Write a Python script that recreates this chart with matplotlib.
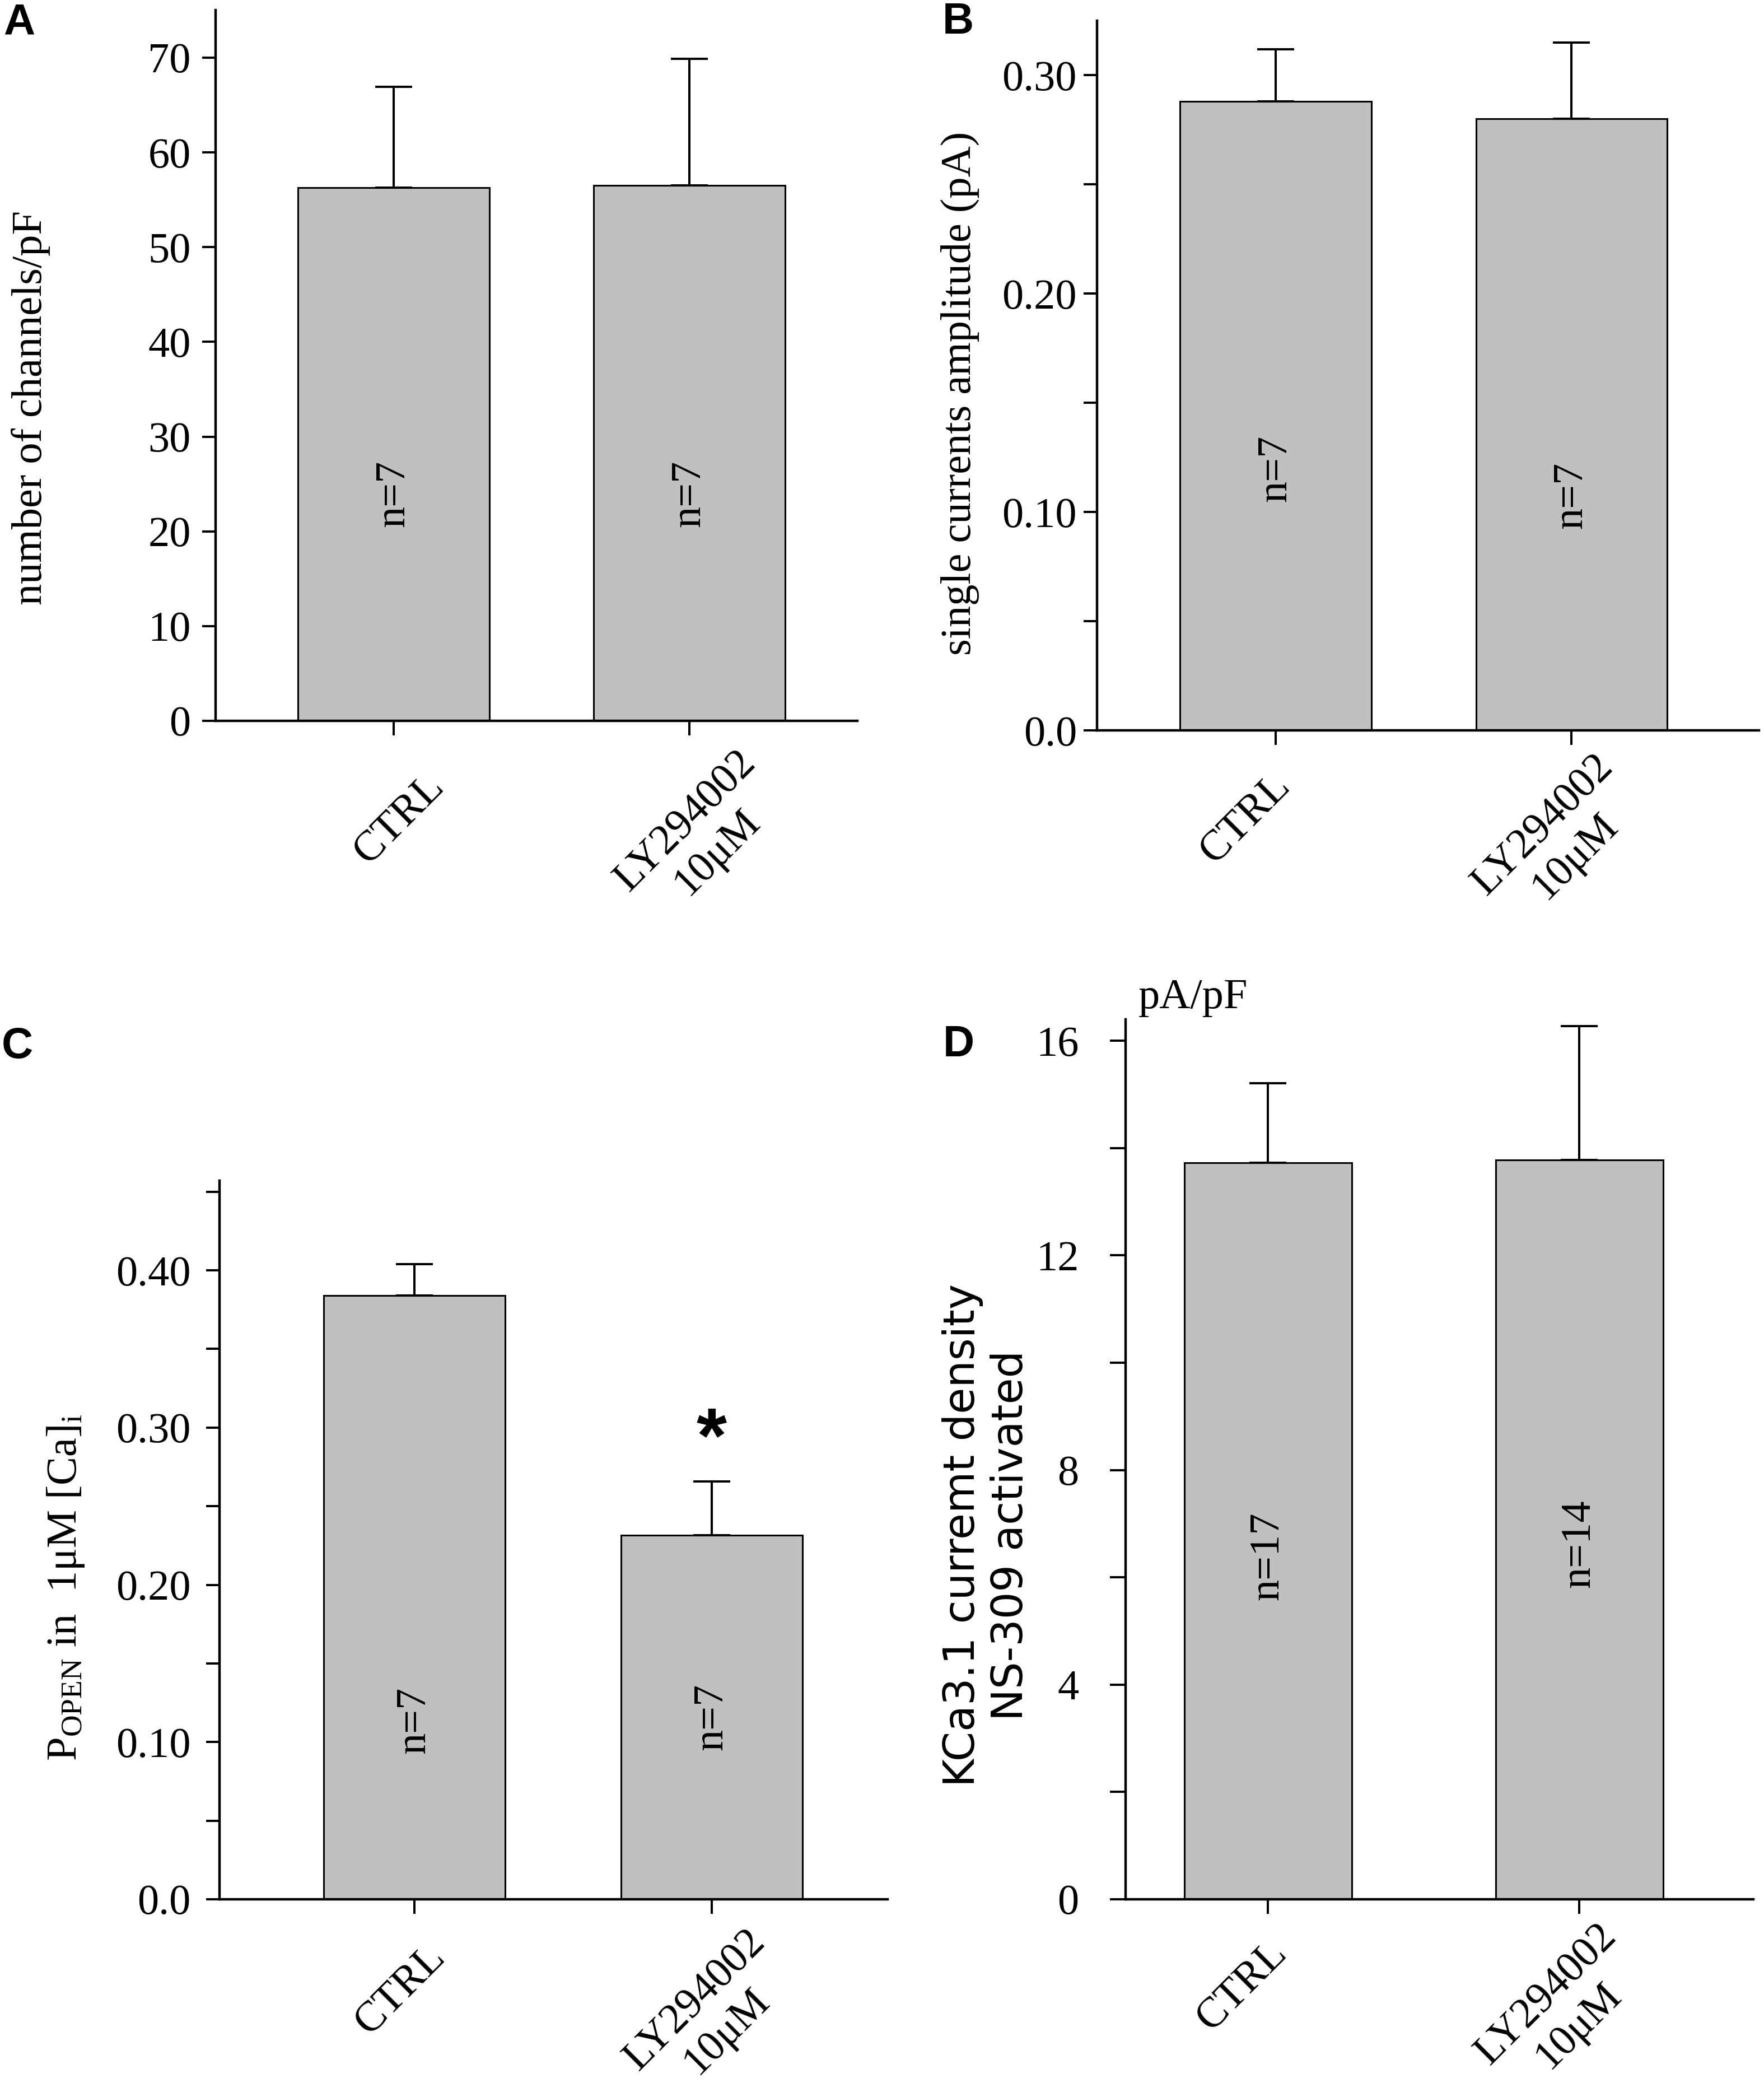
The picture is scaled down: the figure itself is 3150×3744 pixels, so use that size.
import matplotlib
matplotlib.use('Agg')
import matplotlib.pyplot as plt
import matplotlib.transforms as mtransforms
from matplotlib.ticker import FixedLocator, FuncFormatter

# ---------------- data ----------------
categories = ['CTRL', 'LY294002\n10μM']

a_mean = [56.3, 56.5]
a_sem = [10.6, 13.4]
a_n = ['n=7', 'n=7']

b_mean = [0.288, 0.280]
b_sem = [0.024, 0.035]
b_n = ['n=7', 'n=7']

c_mean = [0.384, 0.2316]
c_sem = [0.020, 0.034]
c_n = ['n=7', 'n=7']

d_mean = [13.73, 13.78]
d_sem = [1.48, 2.49]
d_n = ['n=17', 'n=14']

a_yticks = [0, 10, 20, 30, 40, 50, 60, 70]
b_yticks = [0.0, 0.10, 0.20, 0.30]
b_minor = [0.05, 0.15, 0.25]
c_yticks = [0.0, 0.10, 0.20, 0.30, 0.40]
c_minor = [0.05, 0.15, 0.25, 0.35, 0.45]
d_yticks = [0, 4, 8, 12, 16]
d_minor = [2, 6, 10, 14]

# ---------------- style ----------------
plt.rcParams['font.family'] = ['Liberation Serif', 'DejaVu Serif']
plt.rcParams['mathtext.fontset'] = 'custom'
plt.rcParams['mathtext.rm'] = 'Liberation Serif'
plt.rcParams['mathtext.it'] = 'Liberation Serif:italic'
plt.rcParams['mathtext.bf'] = 'Liberation Serif:bold'

FS = 55
BAR_COLOR = '#c0c0c0'
LW_AX = 3.2
LW_TICK = 2.9

fig = plt.figure(figsize=(31.5, 37.44), dpi=100)


def fmt_dec(v, pos):
    return '0.0' if abs(v) < 1e-9 else '%.2f' % v


def fmt_int(v, pos):
    return '%d' % round(v)


def make_panel(rect, means, sems, nlab, ny, ylim, yticks, yminor, fmt,
               ylabel, ylabel_xy, ypad, ylen, xlim, bar_w, label_offsets,
               ylabel_font=None):
    ax = fig.add_axes(rect)
    x = list(range(len(means)))
    ax.bar(x, means, width=bar_w, color=BAR_COLOR, edgecolor='black',
           linewidth=2.2, zorder=2)
    ax.errorbar(x, means, yerr=[[0] * len(sems), sems], fmt='none',
                ecolor='black', elinewidth=2.9, capsize=24, capthick=2.9,
                zorder=3)
    for xi, t, yy in zip(x, nlab, ny):
        ax.text(xi, yy, t, rotation=90, ha='center', va='center',
                fontsize=FS, zorder=4)
    ax.set_xlim(*xlim)
    ax.set_ylim(*ylim)
    for s in ('top', 'right'):
        ax.spines[s].set_visible(False)
    for s in ('left', 'bottom'):
        ax.spines[s].set_linewidth(LW_AX)
    ax.yaxis.set_major_locator(FixedLocator(yticks))
    if yminor:
        ax.yaxis.set_minor_locator(FixedLocator(yminor))
    ax.yaxis.set_major_formatter(FuncFormatter(fmt))
    ax.tick_params(axis='y', which='both', direction='out', length=ylen,
                   width=LW_TICK, pad=ypad, labelsize=FS)
    ax.set_xticks(x)
    ax.set_xticklabels(categories, rotation=45, ha='right', va='center',
                       rotation_mode='anchor', multialignment='center',
                       fontsize=FS)
    ax.tick_params(axis='x', direction='out', length=19, width=LW_TICK, pad=0)
    for lab, (dx, dy) in zip(ax.get_xticklabels(), label_offsets):
        lab.set_transform(lab.get_transform() +
                          mtransforms.ScaledTranslation(dx, dy, fig.dpi_scale_trans))
    kw = dict(fontsize=FS, va='center', ha='center')
    if ylabel_font:
        kw['family'] = ylabel_font
        kw['multialignment'] = 'center'
        kw['linespacing'] = 1.2
    ax.set_ylabel(ylabel, **kw)
    ax.yaxis.set_label_coords(*ylabel_xy)
    return ax


W, H = 3150.0, 3744.0


def rect_px(left, right, bottom, top):
    return [left / W, 1 - bottom / H, (right - left) / W, (bottom - top) / H]


# Panel A
axA = make_panel(rect_px(385, 1531, 1287, 18.4), a_mean, a_sem, a_n, [24.0, 24.0],
                 (0, 75), a_yticks, None, fmt_int,
                 'number of channels/pF', (-0.288, 0.441), 15, 17,
                 (-0.602, 1.568), 0.648,
                 label_offsets=((0.79, -0.80), (1.36, -0.66)))

# Panel B
axB = make_panel(rect_px(1959, 3141, 1304, 37), b_mean, b_sem, b_n, [0.120, 0.1076],
                 (0, 0.325), b_yticks, b_minor, fmt_dec,
                 'single currents amplitude (pA)', (-0.2066, 0.4747), 9, 17,
                 (-0.604, 1.634), 0.646,
                 label_offsets=((0.15, -0.62), (0.92, -0.56)))

# Panel C
axC = make_panel(rect_px(392, 1585, 3391, 2108), c_mean, c_sem, c_n, [0.114, 0.116],
                 (0, 0.457), c_yticks, c_minor, fmt_dec,
                 r'P$_{\mathrm{OPEN}}$ in  1μM [Ca]$_{\mathrm{i}}$', (-0.2297, 0.434), 20, 17,
                 (-0.655, 1.591), 0.61,
                 label_offsets=((0.44, -0.66), (1.13, -0.67)))
axC.text(1, 0.278, '*', ha='center', va='baseline', fontsize=100,
         family='Liberation Sans', fontweight='bold')

# Panel D
axD = make_panel(rect_px(2010, 3131, 3391, 1820), d_mean, d_sem, d_n, [6.40, 6.63],
                 (0, 16.4), d_yticks, d_minor, fmt_int,
                 'KCa3.1 curremt density\nNS-309 activated', (-0.221, 0.4135), 40, 20,
                 (-0.457, 1.559), 0.538,
                 label_offsets=((0.23, -0.59), (0.84, -0.57)),
                 ylabel_font=['DejaVu Sans'])
fig.text(2033 / W, 1 - 1800 / H, 'pA/pF', ha='left', va='baseline', fontsize=FS)

# panel letters
for letter, (px, py) in zip('ABCD', [(34, 41), (1711, 39), (31, 1868), (1712, 1866)]):
    fig.text(px / W, 1 - py / H, letter, ha='center', va='center', fontsize=56,
             family='Liberation Sans', fontweight='bold')

fig.savefig('out.png', dpi=100)
